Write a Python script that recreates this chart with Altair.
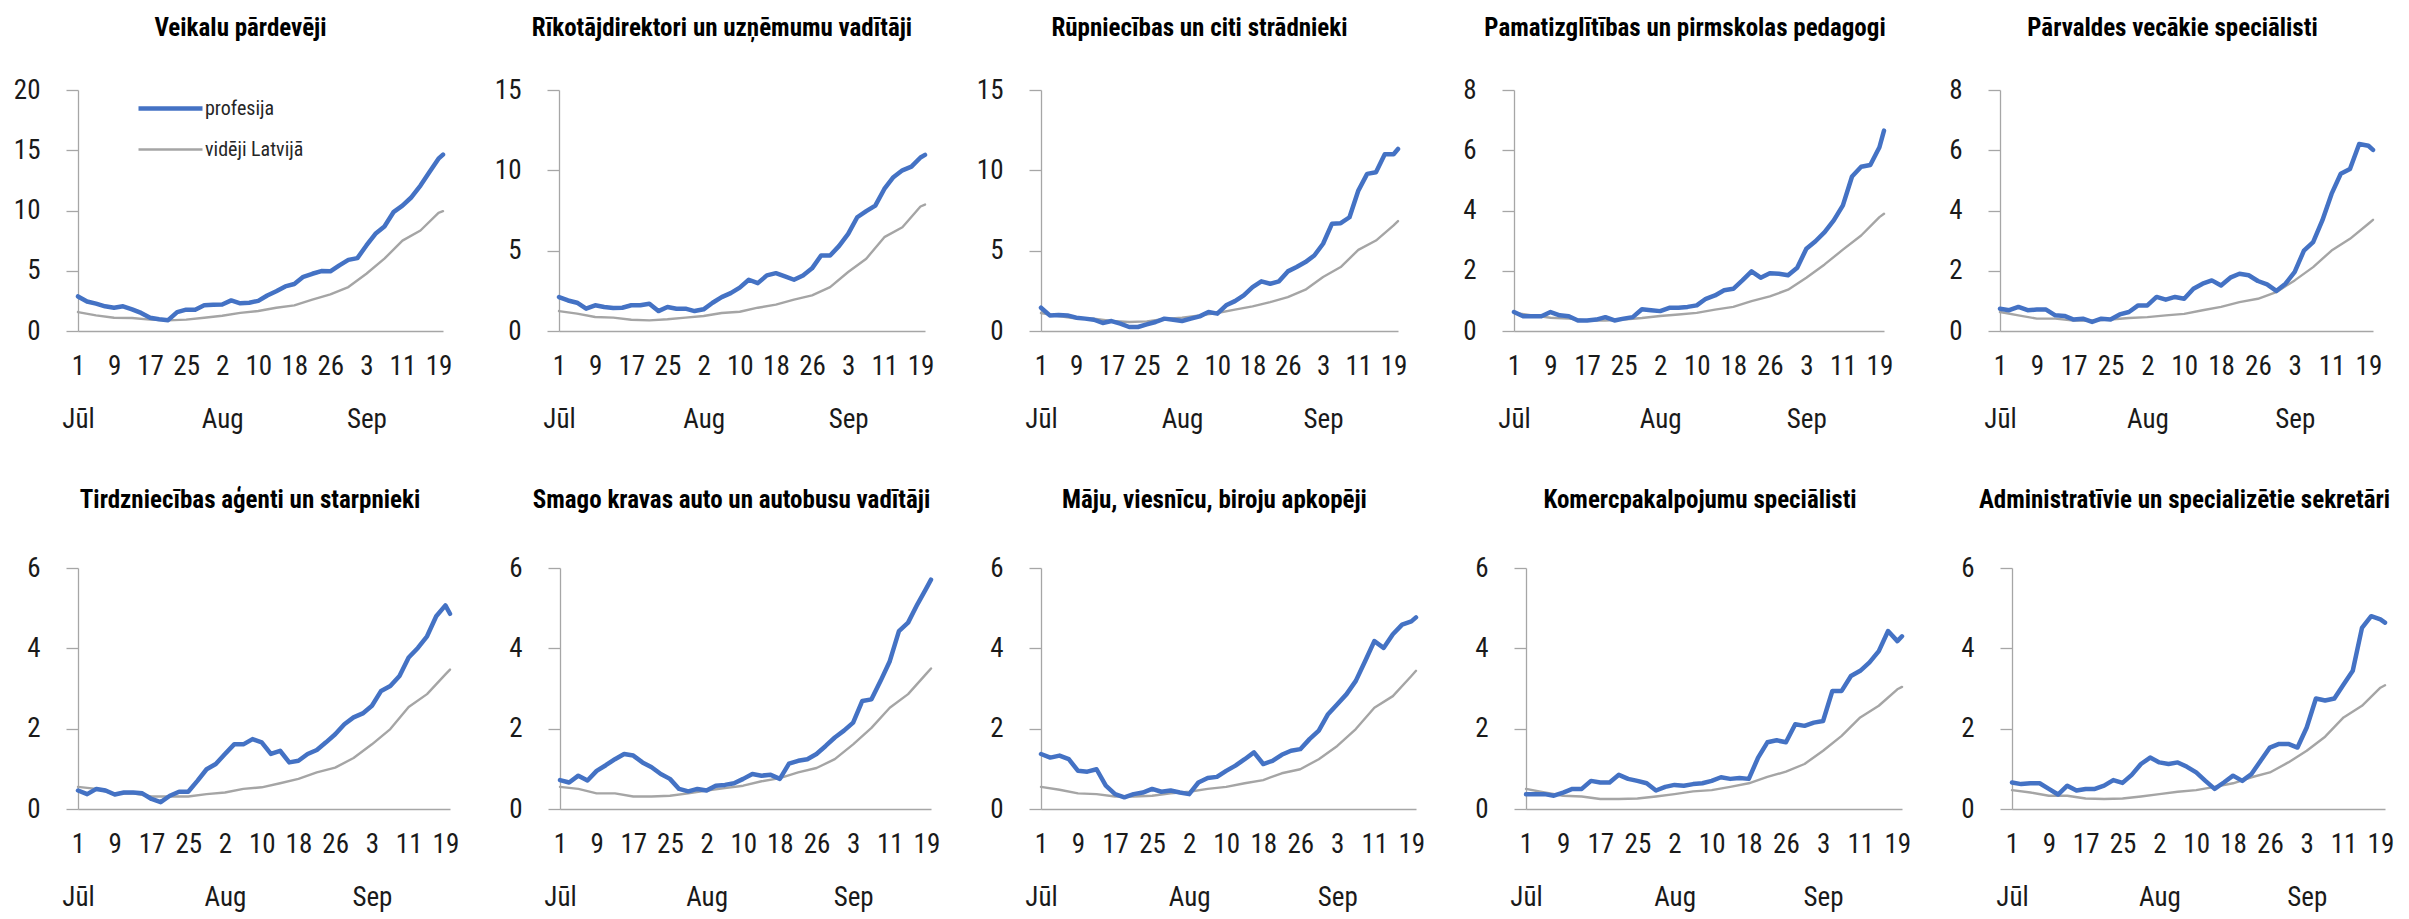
import altair as alt
import pandas as pd

FONT = "Roboto Condensed"

TITLES = [
    "Veikalu pārdevēji",
    "Rīkotājdirektori un uzņēmumu vadītāji",
    "Rūpniecības un citi strādnieki",
    "Pamatizglītības un pirmskolas pedagogi",
    "Pārvaldes vecākie speciālisti",
    "Tirdzniecības aģenti un starpnieki",
    "Smago kravas auto un autobusu vadītāji",
    "Māju, viesnīcu, biroju apkopēji",
    "Komercpakalpojumu speciālisti",
    "Administratīvie un specializētie sekretāri",
]
SERIES = ["profesija", "vidēji Latvijā"]
Y_MAX = [20, 15, 15, 8, 8, 6, 6, 6, 6, 6]
Y_TICKS = [
    [0, 5, 10, 15, 20], [0, 5, 10, 15], [0, 5, 10, 15],
    [0, 2, 4, 6, 8], [0, 2, 4, 6, 8],
    [0, 2, 4, 6], [0, 2, 4, 6], [0, 2, 4, 6], [0, 2, 4, 6], [0, 2, 4, 6],
]
START = "2021-07-01"
END_DAY = 81
TICK_DAYS = [0, 8, 16, 24, 32, 40, 48, 56, 64, 72, 80]
MONTH_DAYS = [0, 32, 64]
MONTH_NAMES = ["Jūl", "Aug", "Sep"]

BLUE_DAYS = list(range(0, 81, 2)) + [81]
GRAY_DAYS = list(range(0, 81, 4)) + [81]

BLUE = [
    [2.87, 2.45, 2.27, 2.05, 1.93, 2.05, 1.8, 1.5, 1.1, 0.97, 0.9, 1.57, 1.77, 1.77, 2.13, 2.18, 2.2, 2.54, 2.3, 2.35, 2.5,
     2.95, 3.3, 3.7, 3.9, 4.5, 4.75, 4.97, 4.95, 5.45, 5.9, 6.05, 7.1, 8.07, 8.67, 9.86, 10.4, 11.1, 12.07, 13.2, 14.3, 14.64],
    [2.11, 1.9, 1.76, 1.39, 1.6, 1.49, 1.43, 1.45, 1.6, 1.6, 1.7, 1.24, 1.49, 1.39, 1.39, 1.24, 1.35, 1.76, 2.11, 2.36, 2.7,
     3.19, 2.98, 3.46, 3.6, 3.4, 3.19, 3.46, 3.9, 4.7, 4.7, 5.3, 6.05, 7.08, 7.46, 7.8, 8.84, 9.57, 10.0, 10.23, 10.8, 10.96],
    [1.45, 0.97, 1.0, 0.97, 0.83, 0.77, 0.7, 0.5, 0.62, 0.46, 0.25, 0.25, 0.41, 0.56, 0.77, 0.7, 0.62, 0.77, 0.91, 1.18, 1.08,
     1.6, 1.86, 2.22, 2.73, 3.09, 2.94, 3.09, 3.71, 3.98, 4.29, 4.7, 5.43, 6.67, 6.71, 7.08, 8.74, 9.78, 9.88, 11.0, 11.0, 11.33],
    [0.63, 0.49, 0.49, 0.49, 0.63, 0.52, 0.49, 0.35, 0.35, 0.38, 0.46, 0.35, 0.41, 0.46, 0.72, 0.69, 0.66, 0.77, 0.77, 0.8, 0.85,
     1.07, 1.18, 1.35, 1.4, 1.68, 1.98, 1.77, 1.92, 1.9, 1.85, 2.1, 2.73, 2.98, 3.28, 3.67, 4.17, 5.13, 5.45, 5.51, 6.1, 6.65],
    [0.74, 0.69, 0.8, 0.69, 0.71, 0.71, 0.52, 0.5, 0.38, 0.41, 0.3, 0.41, 0.38, 0.55, 0.63, 0.85, 0.85, 1.13, 1.04, 1.13, 1.07,
     1.4, 1.57, 1.68, 1.51, 1.77, 1.9, 1.85, 1.66, 1.55, 1.33, 1.57, 1.96, 2.67, 2.95, 3.67, 4.55, 5.22, 5.38, 6.21, 6.15, 6.01],
    [0.46, 0.37, 0.5, 0.46, 0.36, 0.41, 0.41, 0.39, 0.25, 0.17, 0.33, 0.43, 0.43, 0.7, 0.99, 1.12, 1.37, 1.61, 1.61, 1.74, 1.66,
     1.37, 1.45, 1.16, 1.2, 1.37, 1.47, 1.66, 1.86, 2.11, 2.28, 2.38, 2.57, 2.94, 3.06, 3.31, 3.77, 4.01, 4.3, 4.8, 5.07, 4.86],
    [0.72, 0.66, 0.83, 0.71, 0.95, 1.09, 1.24, 1.37, 1.33, 1.16, 1.04, 0.87, 0.75, 0.5, 0.44, 0.5, 0.46, 0.58, 0.6, 0.64, 0.75,
     0.87, 0.83, 0.85, 0.75, 1.13, 1.2, 1.24, 1.37, 1.57, 1.78, 1.95, 2.15, 2.69, 2.73, 3.19, 3.68, 4.43, 4.64, 5.09, 5.5, 5.71],
    [1.37, 1.28, 1.33, 1.24, 0.95, 0.93, 0.99, 0.58, 0.37, 0.29, 0.37, 0.41, 0.5, 0.43, 0.46, 0.41, 0.37, 0.66, 0.77, 0.8, 0.95,
     1.08, 1.24, 1.41, 1.12, 1.2, 1.35, 1.45, 1.49, 1.74, 1.95, 2.36, 2.61, 2.86, 3.19, 3.68, 4.18, 4.01, 4.35, 4.59, 4.67, 4.77],
    [0.37, 0.37, 0.37, 0.33, 0.41, 0.5, 0.5, 0.7, 0.66, 0.66, 0.85, 0.75, 0.7, 0.64, 0.46, 0.55, 0.6, 0.58, 0.62, 0.64, 0.7,
     0.79, 0.75, 0.77, 0.75, 1.28, 1.66, 1.71, 1.66, 2.11, 2.07, 2.15, 2.19, 2.94, 2.94, 3.31, 3.44, 3.65, 3.93, 4.43, 4.18, 4.3],
    [0.66, 0.62, 0.64, 0.64, 0.5, 0.36, 0.58, 0.46, 0.5, 0.5, 0.58, 0.72, 0.65, 0.85, 1.12, 1.28, 1.16, 1.12, 1.16, 1.05, 0.91,
     0.7, 0.5, 0.66, 0.83, 0.7, 0.87, 1.2, 1.53, 1.62, 1.62, 1.53, 2.03, 2.75, 2.7, 2.75, 3.1, 3.44, 4.51, 4.8, 4.72, 4.64],
]
GRAY = [
    [1.57, 1.3, 1.1, 1.08, 0.94, 0.88, 0.94, 1.1, 1.27, 1.5, 1.66, 1.93, 2.13, 2.6, 3.04, 3.65, 4.75, 6.0, 7.5, 8.34, 9.8, 9.94],
    [1.24, 1.08, 0.87, 0.83, 0.7, 0.66, 0.73, 0.83, 0.93, 1.12, 1.2, 1.45, 1.64, 1.95, 2.22, 2.73, 3.67, 4.5, 5.84, 6.46, 7.75, 7.87],
    [1.12, 0.93, 0.77, 0.77, 0.62, 0.56, 0.6, 0.75, 0.83, 0.97, 1.12, 1.33, 1.53, 1.8, 2.11, 2.57, 3.36, 3.98, 5.05, 5.63, 6.57, 6.84],
    [0.6, 0.52, 0.44, 0.41, 0.35, 0.35, 0.38, 0.43, 0.5, 0.55, 0.6, 0.71, 0.8, 0.99, 1.15, 1.37, 1.77, 2.21, 2.7, 3.17, 3.78, 3.89],
    [0.63, 0.52, 0.41, 0.41, 0.35, 0.35, 0.38, 0.43, 0.46, 0.52, 0.57, 0.69, 0.8, 0.96, 1.07, 1.29, 1.68, 2.12, 2.67, 3.06, 3.56, 3.69],
    [0.55, 0.5, 0.37, 0.39, 0.31, 0.31, 0.31, 0.37, 0.41, 0.5, 0.54, 0.64, 0.75, 0.91, 1.03, 1.27, 1.61, 1.99, 2.54, 2.86, 3.35, 3.47],
    [0.55, 0.5, 0.39, 0.39, 0.31, 0.31, 0.33, 0.39, 0.46, 0.52, 0.58, 0.69, 0.77, 0.91, 1.02, 1.24, 1.61, 2.02, 2.52, 2.86, 3.37, 3.5],
    [0.55, 0.48, 0.39, 0.37, 0.31, 0.31, 0.33, 0.39, 0.43, 0.5, 0.55, 0.64, 0.72, 0.89, 0.99, 1.24, 1.57, 1.99, 2.52, 2.81, 3.31, 3.44],
    [0.5, 0.41, 0.33, 0.31, 0.25, 0.25, 0.26, 0.31, 0.37, 0.44, 0.47, 0.55, 0.64, 0.8, 0.93, 1.12, 1.45, 1.82, 2.28, 2.57, 2.98, 3.04],
    [0.47, 0.41, 0.33, 0.33, 0.26, 0.25, 0.26, 0.31, 0.37, 0.43, 0.47, 0.55, 0.64, 0.79, 0.91, 1.16, 1.45, 1.8, 2.28, 2.57, 3.02, 3.08],
]

ROW_WIDTHS = [[365, 366, 357, 370, 373], [372, 371, 375, 376, 373]]
ROW_SPACING = [116, 110]
ROW_TITLE_OFFSET = [15, 21]
PLOT_H = 241

base = pd.Timestamp(START)


def ts(d):
    return int((base + pd.Timedelta(days=d)).value // 10**6)


def iso(d):
    return (base + pd.Timedelta(days=d)).strftime("%Y-%m-%d")


tick_vals = [ts(d) for d in TICK_DAYS]
month_ts = [ts(d) for d in MONTH_DAYS]
label_expr = (
    f"indexof({month_ts}, +datum.value) >= 0 ? "
    f"[utcdate(datum.value) + '', {MONTH_NAMES}[indexof({month_ts}, +datum.value)]] : "
    f"utcdate(datum.value) + ''"
)


def legend(extent):
    return alt.Legend(
        title=None, orient="none", legendX=124 - extent + 5, legendY=-4, padding=0,
        symbolType="M-1.6,0H1.6", symbolSize=1600, labelFontSize=20, labelOffset=12,
        rowPadding=9, labelColor="#262626", labelFont=FONT,
    )


def make_panel(i, width, extent, title_offset):
    rows = []
    for d, v in zip(BLUE_DAYS, BLUE[i]):
        rows.append({"date": iso(d), "value": v, "series": SERIES[0]})
    for d, v in zip(GRAY_DAYS, GRAY[i]):
        rows.append({"date": iso(d), "value": v, "series": SERIES[1]})
    df = pd.DataFrame(rows)

    x = alt.X(
        "date:T",
        scale=alt.Scale(type="utc", domain=[ts(0), ts(END_DAY)], nice=False),
        axis=alt.Axis(
            values=tick_vals, labelExpr=label_expr, title=None, ticks=False, grid=False,
            labelFontSize=27, labelPadding=22, labelLineHeight=53, labelOverlap=False,
            labelFlush=False, labelBound=False, labelAngle=0,
        ),
    )
    y = alt.Y(
        "value:Q",
        scale=alt.Scale(domain=[0, Y_MAX[i]], nice=False, zero=True),
        axis=alt.Axis(
            values=Y_TICKS[i], title=None, grid=False, tickSize=12, labelPadding=26,
            labelFontSize=27, minExtent=extent, maxExtent=extent,
        ),
    )
    color = alt.Color(
        "series:N",
        scale=alt.Scale(domain=SERIES, range=["#4472C4", "#A5A5A5"]),
        legend=legend(extent),
    )
    sw = alt.StrokeWidth(
        "series:N",
        scale=alt.Scale(domain=SERIES, range=[4.5, 2.4]),
        legend=legend(extent),
    )
    enc = dict(x=x, y=y, color=color, strokeWidth=sw)
    gray = alt.Chart(df).transform_filter(alt.datum.series == SERIES[1]).mark_line(
        strokeJoin="round", strokeCap="round").encode(**enc)
    blue = alt.Chart(df).transform_filter(alt.datum.series == SERIES[0]).mark_line(
        strokeJoin="round", strokeCap="round").encode(**enc)
    return alt.layer(gray, blue).properties(
        width=width, height=PLOT_H,
        title=alt.TitleParams(
            TITLES[i], anchor="middle", frame="group", fontSize=25, fontWeight="bold",
            font=FONT, color="#000000", baseline="alphabetic", offset=title_offset,
            dx=round(10 - extent / 2),
        ),
    )


rows = []
for r in range(2):
    panels = []
    for c in range(5):
        i = r * 5 + c
        extent = 59 if max(Y_TICKS[i]) >= 10 else 47
        panels.append(make_panel(i, ROW_WIDTHS[r][c], extent, ROW_TITLE_OFFSET[r]))
    rows.append(alt.hconcat(*panels, spacing=ROW_SPACING[r], bounds="flush"))

chart = alt.vconcat(
    *rows, spacing=56, padding={"left": 5, "top": 8, "right": 0, "bottom": 12}
).configure(font=FONT).configure_view(stroke=None).configure_axis(
    domainColor="#A6A6A6", domainWidth=1.3, tickColor="#A6A6A6", tickWidth=1.3,
    labelColor="#1a1a1a", labelFont=FONT,
).configure_legend(labelFont=FONT)

chart.save("out.html", embed_options={"renderer": "svg", "actions": False})
